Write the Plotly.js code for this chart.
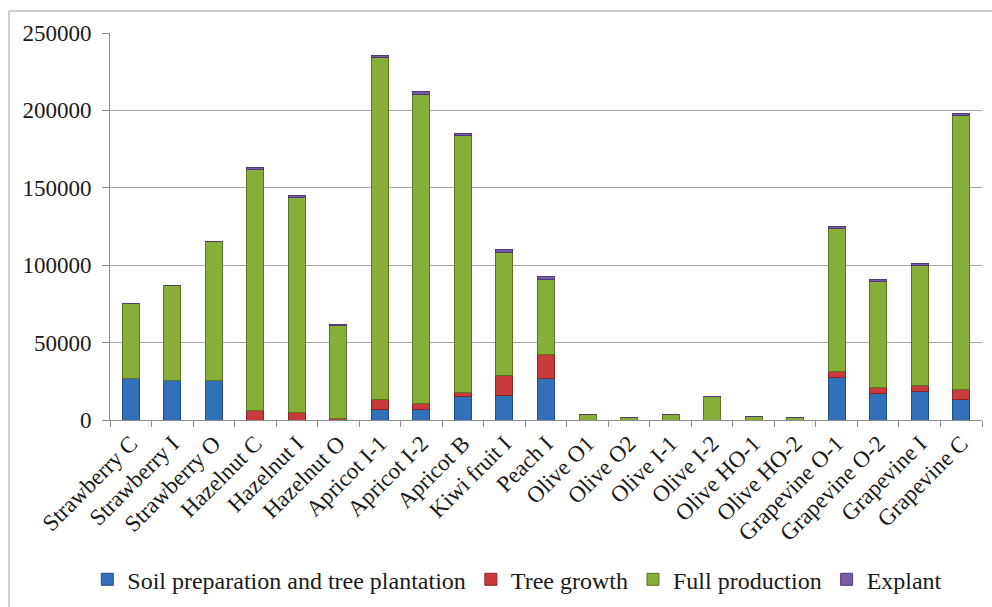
<!DOCTYPE html>
<html>
<head>
<meta charset="utf-8">
<script src="https://cdn.plot.ly/plotly-3.0.1.min.js"></script>
<style>
  html, body { margin: 0; padding: 0; background: #ffffff; }
  #chart { width: 992px; height: 607px; }
</style>
</head>
<body>
<div id="chart"></div>
<script>
// Crop categories along the x axis
const categories = [
  "Strawberry C", "Strawberry I", "Strawberry O", "Hazelnut C", "Hazelnut I", "Hazelnut O",
  "Apricot I-1", "Apricot I-2", "Apricot B", "Kiwi fruit I", "Peach I",
  "Olive O1", "Olive O2", "Olive I-1", "Olive I-2", "Olive HO-1", "Olive HO-2",
  "Grapevine O-1", "Grapevine O-2", "Grapevine I", "Grapevine C"
];

// Stacked phase values per crop
const soilPreparation = [27000, 25500, 25500, 0, 0, 0, 7000, 7000, 15000, 16000, 26500,
  0, 0, 0, 0, 0, 0, 27500, 17000, 18500, 13000];
const treeGrowth = [0, 0, 0, 6000, 5000, 1000, 6500, 3800, 2600, 13000, 15500,
  0, 0, 0, 0, 0, 0, 3800, 4000, 4000, 7000];
const fullProduction = [48000, 61500, 89500, 155800, 139000, 59800, 220500, 199700, 165900, 79500, 49000,
  3500, 1500, 3500, 15500, 2500, 1500, 92200, 68700, 77200, 176700];
const explant = [0, 0, 0, 1200, 1000, 1200, 1500, 1500, 1500, 1500, 2000,
  0, 0, 0, 0, 0, 0, 1500, 1300, 1300, 1300];

const yTicks = [0, 50000, 100000, 150000, 200000, 250000];

const font = "Liberation Serif";

function series(name, values, fill, edge) {
  return {
    type: "bar",
    name: name,
    x: categories,
    y: values,
    marker: { color: fill, line: { color: edge, width: 1 } },
    hoverinfo: "x+y+name"
  };
}

const data = [
  series("Soil preparation and tree plantation", soilPreparation, "#3270B9", "#204d85"),
  series("Tree growth", treeGrowth, "#C93A3A", "#8a2424"),
  series("Full production", fullProduction, "#86AE38", "#587624"),
  series("Explant", explant, "#7A5CA6", "#513a78")
];

const layout = {
  width: 992,
  height: 607,
  barmode: "stack",
  bargap: 0.59,
  paper_bgcolor: "#ffffff",
  plot_bgcolor: "#ffffff",
  margin: { l: 110, r: 10, t: 33, b: 187 },
  font: { family: font, size: 22, color: "#1a1a1a" },
  xaxis: {
    type: "category",
    tickangle: -45,
    ticks: "outside",
    tickson: "boundaries",
    ticklen: 6,
    tickcolor: "#8c8c8c",
    showline: true,
    linecolor: "#8c8c8c",
    linewidth: 1,
    showgrid: false,
    tickfont: { family: font, size: 23, color: "#1a1a1a" },
    automargin: false
  },
  yaxis: {
    range: [0, 250000],
    tickvals: yTicks,
    ticktext: yTicks.map(String),
    ticks: "outside",
    ticklen: 7,
    tickcolor: "#8c8c8c",
    showline: true,
    linecolor: "#8c8c8c",
    linewidth: 1,
    showgrid: true,
    gridcolor: "#a6a6a6",
    gridwidth: 1,
    zeroline: false,
    ticklabelstandoff: 6,
    tickfont: { family: font, size: 23, color: "#1a1a1a" },
    automargin: false
  },
  legend: {
    orientation: "h",
    xref: "container",
    yref: "container",
    x: 0.088,
    xanchor: "left",
    y: 0.045,
    yanchor: "middle",
    traceorder: "normal",
    font: { family: font, size: 24, color: "#1a1a1a" },
    itemwidth: 30,
    tracegroupgap: 0
  },
  shapes: [
    {
      type: "rect",
      xref: "paper", yref: "paper",
      x0: -0.1158, x1: 1.03,
      y0: -0.55, y1: 1.0568,
      line: { color: "#a0a0a0", width: 1 },
      fillcolor: "rgba(0,0,0,0)",
      layer: "below"
    }
  ]
};

Plotly.newPlot("chart", data, layout, { displayModeBar: false, staticPlot: true });
</script>
</body>
</html>
